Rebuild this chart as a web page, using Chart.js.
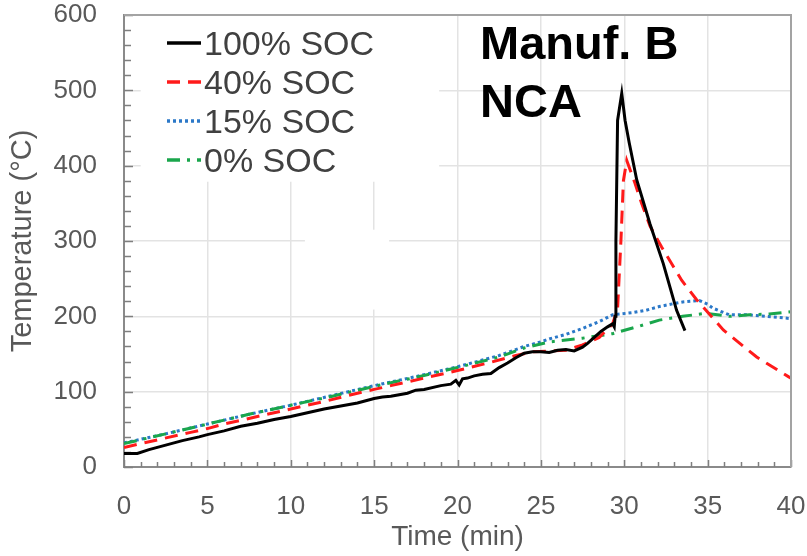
<!DOCTYPE html>
<html><head><meta charset="utf-8">
<script src="https://cdn.jsdelivr.net/npm/chart.js@4/dist/chart.umd.min.js"></script>
<style>html,body{margin:0;padding:0;background:#fff}#wrap{width:807px;height:556px}</style>
</head><body><div id="wrap"><canvas id="c" width="807" height="556"></canvas></div>
<script>
// ---- data ----
const seriesLabels = ['100% SOC', '40% SOC', '15% SOC', '0% SOC'];

const soc100Time = [0,0.8,1.5,2.5,3.5,4.5,5,6,7,7.5,8,9,10,11,12,12.5,13,14,15,15.5,16,17,17.5,18,19,19.6,19.9,20.1,20.3,20.6,21,21.5,22,22.5,23,23.5,24,24.5,25,25.5,26,26.5,27,27.5,27.8,28.2,28.6,29,29.3,29.4,29.45,29.5,29.6,29.85,30.05,30.3,30.75,31.54,32.34,33.14,33.64];
const soc100Temp = [18,18,23,29,35,40,43,48,54,56,58,63,67,72,77,79,81,85,91,93,94,98,102,103,108,110,115,109,117,118,121,123,124,132,138,145,151,153,153,152,155,156,154,159,164,172,180,186,190,186,200,300,460,496,460,430,381,323,270,208,181];

const soc40Time = [0,2,4,5,6,8,10,12,14,15,16,18,20,22,23.5,24.5,25.5,26.5,27.5,28.5,29.3,29.6,29.8,29.95,30.15,30.64,31.04,31.54,32.24,33.44,34.34,35.94,37.94,39.84,40];
const soc40Temp = [26,36,46,51,57,67,77,87,98,103,108,118,128,139,148,153,154,155,162,172,190,210,300,380,407,377,350,320,292,248,222,182,146,120,118];

const soc15Time = [0,2.5,5,7.5,10,12.5,15,17.5,20,22.5,24,25,25.5,26.5,27.5,28.5,29.3,30.5,31.3,32.1,33,33.5,34.5,35,35.3,36.3,37.5,38.5,40];
const soc15Temp = [32,44,57,70,82,95,108,120,133,148,160,166,170,176,184,193,202,205,208,213,217,219,221,216,211,202,202,200,197];

const soc0Time = [0,2.5,5,7.5,10,12.5,15,17.5,20,22.5,24,25.5,27.5,29.3,30.75,32.1,33.5,34.9,36.3,37.5,38.7,40];
const soc0Temp = [31,44,57,70,82,94,107,119,132,146,158,166,171,177,186,195,200,204,200,202,203,206];

const xTickValues = [0,5,10,15,20,25,30,35,40];
const yTickValues = [0,100,200,300,400,500,600];
const xMinorStep = 1;
const yMinorStep = 20;
const xAxisTitle = 'Time (min)';
const yAxisTitle = 'Temperature (°C)';
const titleLines = ['Manuf. B', 'NCA'];

// ---- chart ----
const FONT = '"Liberation Sans", Arial, sans-serif';
const pts = (t, v) => t.map((x, i) => ({x: x, y: v[i]}));

const styles = [
  {color: '#000000', width: 3, dash: []},
  {color: '#ff1a1a', width: 3, dash: [13, 8]},
  {color: '#2b78c8', width: 3, dash: [3, 3]},
  {color: '#1aa64c', width: 3, dash: [13, 7, 3, 7]}
];
const seriesData = [pts(soc100Time, soc100Temp), pts(soc40Time, soc40Temp), pts(soc15Time, soc15Temp), pts(soc0Time, soc0Temp)];

const order = [2, 3, 1, 0];
const datasets = order.map(i => ({
  label: seriesLabels[i],
  data: seriesData[i],
  borderColor: styles[i].color,
  borderWidth: styles[i].width,
  borderDash: styles[i].dash,
  pointRadius: 0,
  tension: 0,
  fill: false,
  order: order.length - order.indexOf(i)
}));

const decorPlugin = {
  id: 'decor',
  beforeDatasetsDraw(chart) {
    const {ctx, chartArea: a, scales: {x, y}} = chart;
    ctx.save();
    ctx.fillStyle = '#ffffff';
    ctx.fillRect(x.getPixelForValue(1), a.top + 1, x.getPixelForValue(18.9) - x.getPixelForValue(1), y.getPixelForValue(380) - a.top);
    ctx.fillRect(x.getPixelForValue(10.85), y.getPixelForValue(315), x.getPixelForValue(15.9) - x.getPixelForValue(10.85), y.getPixelForValue(209) - y.getPixelForValue(315));
    ctx.strokeStyle = '#7f7f7f';
    ctx.lineWidth = 1.5;
    ctx.beginPath();
    for (let v = y.min; v <= y.max; v += yMinorStep) {
      const py = Math.round(y.getPixelForValue(v)) + 0.5;
      const len = (v % 100 === 0) ? 9 : 7;
      ctx.moveTo(a.left, py); ctx.lineTo(a.left + len, py);
    }
    for (let v = x.min; v <= x.max; v += xMinorStep) {
      const px = Math.round(x.getPixelForValue(v)) + 0.5;
      const len = (v % 5 === 0) ? 7 : 5;
      ctx.moveTo(px, a.bottom); ctx.lineTo(px, a.bottom - len);
    }
    ctx.stroke();
    ctx.restore();
  },
  afterDraw(chart) {
    const {ctx, chartArea: a} = chart;
    ctx.save();
    ctx.strokeStyle = '#a3a3a3';
    ctx.lineWidth = 2;
    ctx.beginPath();
    ctx.moveTo(a.left, a.top); ctx.lineTo(a.right, a.top); ctx.lineTo(a.right, a.bottom);
    ctx.stroke();
    [0, 1, 2, 3].forEach((i, r) => {
      const ly = a.top + 28 + r * 39;
      const s = styles[i];
      ctx.strokeStyle = s.color;
      ctx.lineWidth = s.width + 0.5;
      ctx.setLineDash(s.dash);
      ctx.beginPath();
      ctx.moveTo(a.left + 43, ly); ctx.lineTo(a.left + 77, ly);
      ctx.stroke();
      ctx.setLineDash([]);
      ctx.fillStyle = '#404040';
      ctx.font = '34px ' + FONT;
      ctx.textBaseline = 'alphabetic';
      ctx.textAlign = 'left';
      ctx.fillText(seriesLabels[i], a.left + 80, a.top + 40 + r * 39);
    });
    ctx.fillStyle = '#000000';
    ctx.font = 'bold 47px ' + FONT;
    titleLines.forEach((t, k) => ctx.fillText(t, a.left + 356, a.top + 44 + k * 58));
    ctx.restore();
  }
};

new Chart(document.getElementById('c'), {
  type: 'line',
  data: {datasets},
  options: {
    responsive: false,
    animation: false,
    devicePixelRatio: 1,
    layout: {padding: 0},
    plugins: {legend: {display: false}, tooltip: {enabled: false}},
    scales: {
      x: {
        type: 'linear', min: 0, max: 40,
        afterBuildTicks: s => { s.ticks = xTickValues.map(v => ({value: v})); },
        afterFit: s => { s.height = 89; s.paddingLeft = 0; s.paddingRight = 16; },
        ticks: {font: {family: FONT, size: 26}, color: '#595959', padding: 24, maxRotation: 0, autoSkip: false},
        grid: {color: '#e3e3e3', lineWidth: 1.5, drawTicks: false},
        border: {color: '#8a8a8a', width: 2},
        title: {display: true, text: xAxisTitle, font: {family: FONT, size: 28}, color: '#595959', padding: {top: 0, bottom: 2}}
      },
      y: {
        type: 'linear', min: 0, max: 600,
        afterBuildTicks: s => { s.ticks = yTickValues.map(v => ({value: v})); },
        afterFit: s => { s.width = 124; s.paddingTop = 15; s.paddingBottom = 0; },
        ticks: {font: {family: FONT, size: 26}, color: '#595959', padding: 27},
        grid: {color: '#e3e3e3', lineWidth: 1.5, drawTicks: false},
        border: {color: '#8a8a8a', width: 2},
        title: {display: true, text: yAxisTitle, font: {family: FONT, size: 29}, color: '#595959', padding: {top: 6, bottom: 0}}
      }
    }
  },
  plugins: [decorPlugin]
});
</script>
</body></html>
